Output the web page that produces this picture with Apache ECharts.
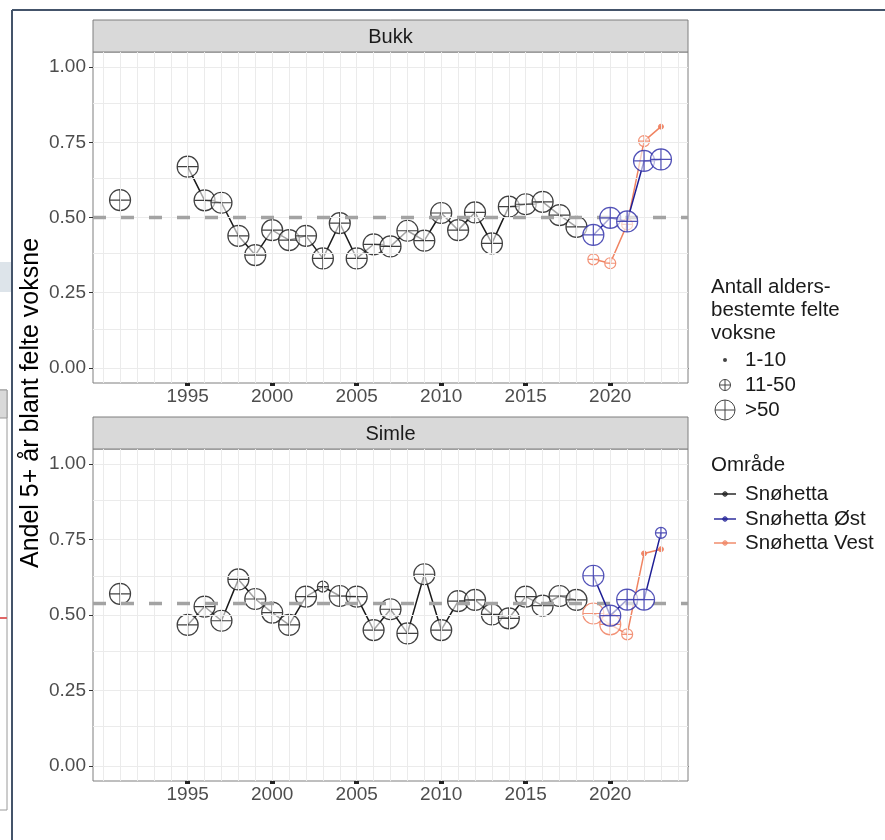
<!DOCTYPE html>
<html><head><meta charset="utf-8">
<script src="https://cdn.jsdelivr.net/npm/echarts@6/dist/echarts.min.js"></script>
<style>html,body{margin:0;padding:0;background:#fff}#c{width:885px;height:840px}</style>
</head><body><div id="c"></div>
<script>
// ---- data ----
const panels = ['Bukk', 'Simle'];
const areaNames = ['Snøhetta', 'Snøhetta Øst', 'Snøhetta Vest'];
const sizeLabels = ['1-10', '11-50', '>50'];
const xTickYears = [1995, 2000, 2005, 2010, 2015, 2020];
const yTicks = [0, 0.25, 0.5, 0.75, 1.0];
const refLines = [0.5, 0.544]; // dashed reference per panel

// Bukk
const bukkSnYears = [1991,1995,1996,1997,1998,1999,2000,2001,2002,2003,2004,2005,2006,2007,2008,2009,2010,2011,2012,2013,2014,2015,2016,2017,2018];
const bukkSnVals  = [0.558,0.669,0.557,0.549,0.439,0.375,0.458,0.425,0.439,0.364,0.481,0.364,0.411,0.404,0.456,0.423,0.515,0.458,0.517,0.414,0.536,0.544,0.552,0.508,0.469];
const bukkSnSize  = [3,3,3,3,3,3,3,3,3,3,3,3,3,3,3,3,3,3,3,3,3,3,3,3,3];
const bukkOstYears = [2019,2020,2021,2022,2023];
const bukkOstVals  = [0.442,0.499,0.487,0.688,0.693];
const bukkOstSize  = [3,3,3,3,3];
const bukkVestYears = [2019,2020,2021,2022,2023];
const bukkVestVals  = [0.361,0.348,0.477,0.754,0.802];
const bukkVestSize  = [2,2,2,2,1];

// Simle
const simleSnYears = [1991,1995,1996,1997,1998,1999,2000,2001,2002,2003,2004,2005,2006,2007,2008,2009,2010,2011,2012,2013,2014,2015,2016,2017,2018];
const simleSnVals  = [0.570,0.467,0.528,0.481,0.618,0.553,0.508,0.467,0.561,0.594,0.563,0.561,0.450,0.519,0.439,0.635,0.450,0.546,0.550,0.502,0.489,0.561,0.531,0.563,0.550];
const simleSnSize  = [3,3,3,3,3,3,3,3,3,2,3,3,3,3,3,3,3,3,3,3,3,3,3,3,3];
const simleOstYears = [2019,2020,2021,2022,2023];
const simleOstVals  = [0.630,0.498,0.551,0.551,0.772];
const simleOstSize  = [3,3,3,3,2];
const simleVestYears = [2019,2020,2021,2022,2023];
const simleVestVals  = [0.505,0.469,0.436,0.704,0.718];
const simleVestSize  = [3,3,2,1,1];

// ---- styling ----
const FONT = 'Liberation Sans, Arial, Helvetica, sans-serif';
const lineColors = ['#1a1a1a', '#1f1f96', '#f08462'];
const ptColors = ['rgba(30,30,30,0.85)', 'rgba(50,50,170,0.85)', 'rgba(240,128,96,0.85)'];
const seriesZ = [3, 5, 4];
const XMIN = 1989.4, XMAX = 2024.6;
const gridPos = [{top: 52, height: 331}, {top: 449, height: 332}];
const GL = 93, GW = 595;
const CROSS = 'path://M0,-10A10,10,0,1,1,0,10A10,10,0,1,1,0,-10ZM-10,0L10,0M0,-10L0,10';
const sizePx = {1: 5, 2: 11, 3: 21};

const allYears = [];
for (let y = 1990; y <= 2024; y++) allYears.push(y);
const yGrid = [];
for (let v = 0; v <= 1.0001; v += 0.125) yGrid.push(+v.toFixed(3));

function buildData(years, vals, sizes, ci) {
  const out = [];
  for (let i = 0; i < years.length; i++) {
    if (i > 0 && years[i] - years[i-1] > 1) out.push({value: [years[i-1] + 1, '-']});
    const s = sizes[i];
    const item = {value: [years[i], vals[i]], symbol: CROSS, symbolSize: sizePx[s]};
    if (s === 1) {
      item.itemStyle = {color: ptColors[ci], borderColor: ptColors[ci], borderWidth: 1};
    } else {
      item.itemStyle = {color: 'rgba(255,255,255,0.6)', borderColor: ptColors[ci], borderWidth: 1.2};
    }
    out.push(item);
  }
  return out;
}

const panelData = [
  [[bukkSnYears, bukkSnVals, bukkSnSize], [bukkOstYears, bukkOstVals, bukkOstSize], [bukkVestYears, bukkVestVals, bukkVestSize]],
  [[simleSnYears, simleSnVals, simleSnSize], [simleOstYears, simleOstVals, simleOstSize], [simleVestYears, simleVestVals, simleVestSize]]
];

const grids = [], xAxes = [], yAxes = [], series = [];
panels.forEach((p, i) => {
  grids.push({left: GL, top: gridPos[i].top, width: GW, height: gridPos[i].height, show: true,
    borderColor: '#7f7f7f', borderWidth: 1, backgroundColor: '#fff'});
  xAxes.push({gridIndex: i, type: 'value', position: 'bottom', min: XMIN, max: XMAX,
    axisLine: {show: true, lineStyle: {color: '#333', width: 1}},
    axisTick: {show: true, customValues: allYears, length: 3, lineStyle: {color: '#9a9a9a', width: 1}},
    axisLabel: {show: false}, splitLine: {show: false}});
  xAxes.push({gridIndex: i, type: 'value', position: 'bottom', min: XMIN, max: XMAX,
    axisLine: {show: false},
    axisTick: {show: true, customValues: xTickYears, length: 3, lineStyle: {color: '#222', width: 5}},
    axisLabel: {show: true, customValues: xTickYears, formatter: v => String(v), fontSize: 19, color: '#4d4d4d', fontFamily: FONT, margin: 4},
    splitLine: {show: false}});
  yAxes.push({gridIndex: i, type: 'value', min: -0.05, max: 1.05,
    axisLine: {show: false},
    axisTick: {show: true, customValues: yTicks, length: 4, lineStyle: {color: '#333'}},
    axisLabel: {show: true, customValues: yTicks, formatter: v => v.toFixed(2), fontSize: 19, color: '#4d4d4d', fontFamily: FONT, margin: 7},
    splitLine: {show: false}});
  // gridlines + reference line
  const ml = [];
  allYears.forEach(y => ml.push({xAxis: y}));
  yGrid.forEach(v => ml.push({yAxis: v}));
  ml.push({yAxis: refLines[i], lineStyle: {color: '#a3a3a3', type: [13, 15], width: 3.4}});
  series.push({type: 'line', xAxisIndex: i * 2, yAxisIndex: i, data: [], z: 1, silent: true,
    markLine: {silent: true, symbol: 'none', animation: false, label: {show: false},
      lineStyle: {color: '#ebebeb', type: 'solid', width: 1}, emphasis: {disabled: true}, data: ml}});
  panelData[i].forEach((d, ci) => {
    series.push({type: 'line', name: areaNames[ci], xAxisIndex: i * 2, yAxisIndex: i, z: seriesZ[ci],
      data: buildData(d[0], d[1], d[2], ci), connectNulls: false, showSymbol: true, showAllSymbol: true,
      lineStyle: {color: lineColors[ci], width: 1.5}, itemStyle: {color: ptColors[ci]},
      emphasis: {disabled: true}, silent: true});
  });
});

// ---- graphics: strips, titles, legend, frame ----
const g = [];
// frame of screenshot
g.push({type: 'line', shape: {x1: 12, y1: 10, x2: 885, y2: 10}, style: {stroke: '#44546a', lineWidth: 2}, z: 10});
g.push({type: 'line', shape: {x1: 12, y1: 10, x2: 12, y2: 840}, style: {stroke: '#44546a', lineWidth: 2}, z: 10});
g.push({type: 'rect', shape: {x: 0, y: 262, width: 11, height: 30}, style: {fill: '#dde4ea'}});
g.push({type: 'rect', shape: {x: -2, y: 390, width: 9, height: 420}, style: {fill: '#fff', stroke: '#9a9a9a', lineWidth: 1}});
g.push({type: 'rect', shape: {x: -2, y: 390, width: 9, height: 28}, style: {fill: '#d9d9d9', stroke: '#9a9a9a', lineWidth: 1}});
g.push({type: 'line', shape: {x1: 0, y1: 618, x2: 7, y2: 618}, style: {stroke: '#e06666', lineWidth: 2}});

const stripTop = [20, 417];
panels.forEach((p, i) => {
  g.push({type: 'rect', shape: {x: GL, y: stripTop[i], width: GW, height: gridPos[i].top - stripTop[i]},
    style: {fill: '#d9d9d9', stroke: '#7f7f7f', lineWidth: 1}});
  g.push({type: 'text', x: GL + GW / 2, y: (stripTop[i] + gridPos[i].top) / 2 + 1,
    style: {text: p, fontSize: 20, fontFamily: FONT, fill: '#1a1a1a', align: 'center', verticalAlign: 'middle'}});
});
g.push({type: 'text', x: 31, y: 403, rotation: Math.PI / 2,
  style: {text: 'Andel 5+ år blant felte voksne', fontSize: 25, fontFamily: FONT, fill: '#000', align: 'center', verticalAlign: 'middle'}});

function crossSym(cx, cy, r, color) {
  return {type: 'group', children: [
    {type: 'circle', shape: {cx: cx, cy: cy, r: r}, style: {fill: 'none', stroke: color, lineWidth: 1}},
    {type: 'line', shape: {x1: cx - r, y1: cy, x2: cx + r, y2: cy}, style: {stroke: color, lineWidth: 1}},
    {type: 'line', shape: {x1: cx, y1: cy - r, x2: cx, y2: cy + r}, style: {stroke: color, lineWidth: 1}}
  ]};
}
const LX = 711, LFS = 20.5;
// legend 1
['Antall alders-', 'bestemte felte', 'voksne'].forEach((t, k) => {
  g.push({type: 'text', x: LX, y: 287 + k * 23, style: {text: t, fontSize: LFS, fontFamily: FONT, fill: '#1a1a1a', verticalAlign: 'middle'}});
});
const sizeY = [360, 385, 410];
g.push({type: 'circle', shape: {cx: 725, cy: sizeY[0], r: 2}, style: {fill: '#444'}});
g.push(crossSym(725, sizeY[1], 5.5, '#444'));
g.push(crossSym(725, sizeY[2], 10, '#444'));
sizeLabels.forEach((t, k) => {
  g.push({type: 'text', x: 745, y: sizeY[k], style: {text: t, fontSize: LFS, fontFamily: FONT, fill: '#1a1a1a', verticalAlign: 'middle'}});
});
// legend 2
g.push({type: 'text', x: LX, y: 465, style: {text: 'Område', fontSize: LFS, fontFamily: FONT, fill: '#1a1a1a', verticalAlign: 'middle'}});
const areaY = [494, 519, 543];
areaNames.forEach((t, k) => {
  g.push({type: 'line', shape: {x1: 714, y1: areaY[k], x2: 736, y2: areaY[k]}, style: {stroke: lineColors[k], lineWidth: 1.4}});
  g.push(crossSym(725, areaY[k], 2.2, lineColors[k]));
  g.push({type: 'text', x: 745, y: areaY[k], style: {text: t, fontSize: LFS, fontFamily: FONT, fill: '#1a1a1a', verticalAlign: 'middle'}});
});

const chart = echarts.init(document.getElementById('c'), null, {renderer: 'canvas'});
chart.setOption({
  animation: false,
  backgroundColor: '#fff',
  grid: grids, xAxis: xAxes, yAxis: yAxes, series: series, graphic: g
});
</script></body></html>
